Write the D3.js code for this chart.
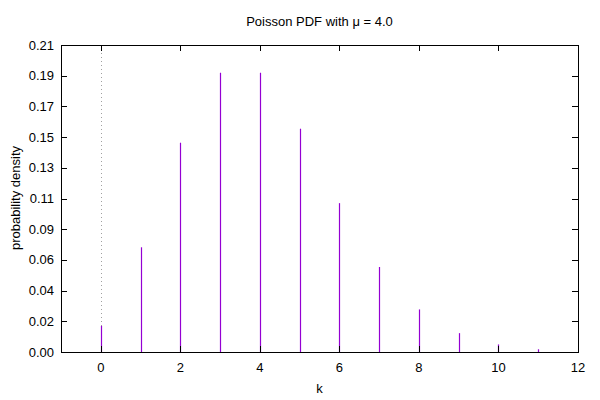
<!DOCTYPE html>
<html><head><meta charset="utf-8">
<script src="https://cdn.jsdelivr.net/npm/d3@7"></script>
<style>body{margin:0;background:#fff}svg{display:block}text{font-family:"Liberation Sans",Arial,sans-serif;font-size:13px;fill:#000}</style>
</head><body>
<svg id="c" width="600" height="400"></svg>
<script>
const ks = [0,1,2,3,4,5,6,7,8,9,10,11];
const pdf = [0.0183,0.0733,0.1465,0.1954,0.1954,0.1563,0.1042,0.0595,0.0298,0.0132,0.0053,0.0019];
const xTicks = [0,2,4,6,8,10,12];
const yMax = 0.2149;
const yTicks = [0,0.02149,0.04298,0.06447,0.08596,0.10745,0.12894,0.15043,0.17192,0.19341,0.2149];
const title = "Poisson PDF with \u03bc = 4.0";

const L=61,R=578,T=45,B=352;
const svg=d3.select("#c");
const x=d3.scaleLinear().domain([-1,12]).range([L,R]);
const y=d3.scaleLinear().domain([0,yMax]).range([B,T]);
const px=v=>Math.round(x(v))+0.5;
const py=v=>Math.round(y(v))+0.5;

// zero axis dotted
svg.append("line").attr("x1",px(0)).attr("x2",px(0)).attr("y1",T).attr("y2",B)
 .attr("stroke","#a0a0a0").attr("stroke-width",1).attr("stroke-dasharray","1,3");

// impulses
svg.selectAll("line.imp").data(ks).enter().append("line").attr("class","imp")
 .attr("x1",d=>px(d)).attr("x2",d=>px(d)).attr("y1",B).attr("y2",(d,i)=>y(pdf[i]))
 .attr("stroke","#9400d3").attr("stroke-width",1.2);

// ticks
const tl=6;
const g=svg.append("g").attr("stroke","#000").attr("stroke-width",1);
xTicks.forEach(t=>{
  g.append("line").attr("x1",px(t)).attr("x2",px(t)).attr("y1",B).attr("y2",B-tl);
  g.append("line").attr("x1",px(t)).attr("x2",px(t)).attr("y1",T).attr("y2",T+tl);
});
yTicks.forEach(t=>{
  g.append("line").attr("x1",L).attr("x2",L+tl).attr("y1",py(t)).attr("y2",py(t));
  g.append("line").attr("x1",R).attr("x2",R-tl).attr("y1",py(t)).attr("y2",py(t));
});
svg.append("rect").attr("x",L+0.5).attr("y",T+0.5).attr("width",R-L).attr("height",B-T)
 .attr("fill","none").attr("stroke","#000").attr("stroke-width",1);

svg.selectAll("text.xt").data(xTicks).enter().append("text").attr("class","xt")
 .attr("x",d=>x(d)).attr("y",372).attr("text-anchor","middle").text(d=>d);
svg.selectAll("text.yt").data(yTicks).enter().append("text").attr("class","yt")
 .attr("x",54).attr("y",d=>y(d)+4.5).attr("text-anchor","end").text(d=>d3.format(".2f")(d));

svg.append("text").attr("x",(L+R)/2).attr("y",26).attr("text-anchor","middle").text(title);
svg.append("text").attr("x",(L+R)/2).attr("y",393).attr("text-anchor","middle").text("k");
svg.append("text").attr("transform","translate(20,198) rotate(-90)").attr("text-anchor","middle").text("probability density");
</script>
</body></html>
